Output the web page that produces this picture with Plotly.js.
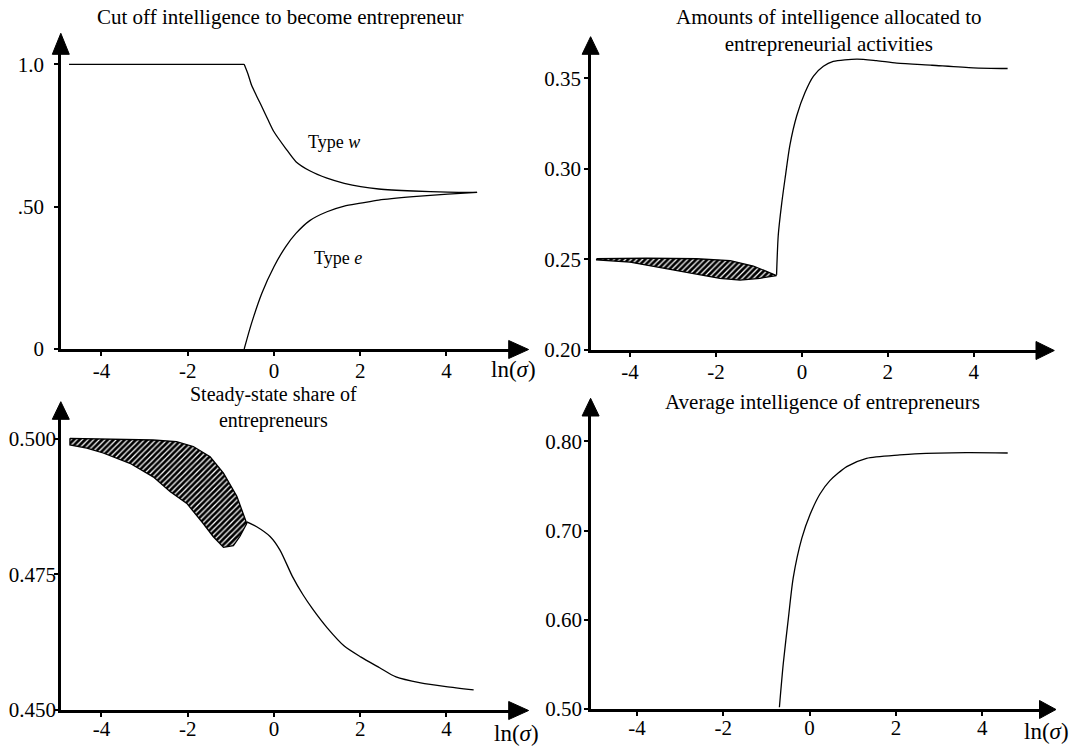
<!DOCTYPE html>
<html>
<head>
<meta charset="utf-8">
<script src="https://cdn.plot.ly/plotly-3.0.1.min.js"></script>
<style>html,body{margin:0;padding:0;background:#fff;}#chart{width:1076px;height:747px;}</style>
</head>
<body>
<div id="chart"></div>
<script>
// ---------------- DATA ----------------
// Panel 1: cut off intelligence to become entrepreneur
const typeWX = [-4.75, -0.69, -0.60, -0.52, -0.40, -0.28, -0.14, 0.0, 0.27, 0.51, 0.83, 1.23, 1.63, 2.01, 2.43, 3.23, 4.03, 4.71];
const typeWY = [1.0, 1.0, 0.965, 0.927, 0.888, 0.851, 0.806, 0.763, 0.705, 0.658, 0.626, 0.600, 0.582, 0.570, 0.562, 0.555, 0.551, 0.550];
const typeEX = [-0.69, -0.52, -0.28, 0.0, 0.27, 0.51, 0.83, 1.23, 1.63, 2.01, 2.43, 3.23, 4.03, 4.71];
const typeEY = [0.0, 0.090, 0.196, 0.289, 0.359, 0.406, 0.451, 0.482, 0.502, 0.512, 0.523, 0.535, 0.544, 0.550];

// Panel 2: amounts of intelligence allocated to entrepreneurial activities
const alloc2UpperX = [-4.78, -3.61, -2.45, -1.67, -1.13, -0.59];
const alloc2UpperY = [0.2504, 0.2508, 0.2504, 0.2494, 0.2464, 0.2415];
const alloc2LowerX = [-4.78, -4.0, -3.23, -2.45, -1.91, -1.44, -0.98, -0.59];
const alloc2LowerY = [0.2498, 0.2485, 0.2455, 0.2419, 0.2396, 0.2386, 0.2396, 0.2411];
const alloc2X = [-0.59, -0.55, -0.47, -0.39, -0.28, -0.12, 0.07, 0.27, 0.50, 0.73, 1.28, 1.74, 2.21, 3.03, 3.99, 4.79];
const alloc2Y = [0.2415, 0.2635, 0.281, 0.2951, 0.3131, 0.3294, 0.3421, 0.3513, 0.3567, 0.3594, 0.3607, 0.3598, 0.3585, 0.3573, 0.3559, 0.3555];

// Panel 3: steady-state share of entrepreneurs
const share3UpperX = [-4.73, -3.57, -2.80, -2.26, -1.87, -1.48, -1.17, -0.86, -0.63];
const share3UpperY = [0.5001, 0.4999, 0.4998, 0.4995, 0.4986, 0.4967, 0.4937, 0.4894, 0.4847];
const share3LowerX = [-4.73, -4.34, -3.96, -3.34, -2.80, -2.41, -2.02, -1.64, -1.41, -1.17, -0.94, -0.79, -0.63];
const share3LowerY = [0.4989, 0.4983, 0.4974, 0.4955, 0.4930, 0.4903, 0.4881, 0.4844, 0.4820, 0.4800, 0.4803, 0.4820, 0.4844];
const share3X = [-0.63, -0.40, -0.09, 0.14, 0.43, 0.67, 0.90, 1.23, 1.63, 2.01, 2.45, 2.83, 3.40, 3.99, 4.63];
const share3Y = [0.4847, 0.4838, 0.4820, 0.4795, 0.4746, 0.4713, 0.4686, 0.4652, 0.4618, 0.4598, 0.4578, 0.4561, 0.4550, 0.4543, 0.4537];

// Panel 4: average intelligence of entrepreneurs
const avg4X = [-0.70, -0.61, -0.49, -0.38, -0.18, 0.01, 0.24, 0.47, 0.86, 1.32, 2.09, 2.44, 3.63, 4.59];
const avg4Y = [0.502, 0.551, 0.6026, 0.647, 0.6915, 0.718, 0.741, 0.756, 0.7717, 0.781, 0.7848, 0.786, 0.7874, 0.787];

// Tick labels
const xTickVals = [-4, -2, 0, 2, 4];
const xTickText = ["-4", "-2", "0", "2", "4"];
const y1TickVals = [0, 0.5, 1.0];
const y1TickText = ["0", ".50", "1.0"];
const y2TickVals = [0.20, 0.25, 0.30, 0.35];
const y2TickText = ["0.20", "0.25", "0.30", "0.35"];
const y3TickVals = [0.450, 0.475, 0.500];
const y3TickText = ["0.450", "0.475", "0.500"];
const y4TickVals = [0.50, 0.60, 0.70, 0.80];
const y4TickText = ["0.50", "0.60", "0.70", "0.80"];

const titles = [
  "Cut off intelligence to become entrepreneur",
  "Amounts of intelligence allocated to<br>entrepreneurial activities",
  "Steady-state share of<br>entrepreneurs",
  "Average intelligence of entrepreneurs"
];

// ---------------- LAYOUT HELPERS ----------------
const W = 1076, H = 747;
const FONT = "Liberation Serif, Times New Roman, serif";
const fx = v => v / W;
const fy = v => 1 - v / H;

// panel geometry in pixels
const P = [
  {xl: 61.3, xr: 509.7, yb: 349, yt: 53.3, xr0: -4.93, xr1: 5.466, yr0: 0, yr1: 1.0386, xtip: 528.6, ytip: 33.3, xso: -3, yso: 6},
  {xl: 591.1, xr: 1037, yb: 350, yt: 53.3, xr0: -4.908, xr1: 5.474, yr0: 0.20, yr1: 0.3639, xtip: 1054.3, ytip: 36.7, xso: -3, yso: -1},
  {xl: 61.3, xr: 509.7, yb: 710, yt: 418.3, xr0: -4.93, xr1: 5.466, yr0: 0.45, yr1: 0.5038, xtip: 528.6, ytip: 401.7, xso: -6, yso: -6},
  {xl: 591.1, xr: 1040.5, yb: 709, yt: 415, xr0: -5.063, xr1: 5.35, yr0: 0.50, yr1: 0.8296, xtip: 1056, ytip: 398.3, xso: -6, yso: -2}
];
const yTV = [y1TickVals, y2TickVals, y3TickVals, y4TickVals];
const yTT = [y1TickText, y2TickText, y3TickText, y4TickText];

const layout = {
  width: W, height: H,
  margin: {l: 0, r: 0, t: 0, b: 0, pad: 0},
  paper_bgcolor: "white", plot_bgcolor: "white",
  showlegend: false,
  font: {family: FONT, color: "black", size: 21},
  shapes: [], annotations: []
};

P.forEach((p, i) => {
  const n = i + 1;
  const xs = n === 1 ? "" : String(n);
  const tickFont = {family: FONT, size: 21, color: "black"};
  layout["xaxis" + xs] = {
    domain: [fx(p.xl), fx(p.xr)], anchor: "y" + xs, range: [p.xr0, p.xr1],
    showline: true, linewidth: 3, linecolor: "black",
    ticks: "outside", ticklen: 4, tickwidth: 2, tickcolor: "black",
    tickmode: "array", tickvals: xTickVals, ticktext: xTickText,
    showgrid: false, zeroline: false, tickfont: tickFont, ticklabelstandoff: p.xso,
    fixedrange: true
  };
  layout["yaxis" + xs] = {
    domain: [fy(p.yb), fy(p.yt)], anchor: "x" + xs, range: [p.yr0, p.yr1],
    showline: true, linewidth: 3, linecolor: "black",
    ticks: "outside", ticklen: 4, tickwidth: 2, tickcolor: "black",
    tickmode: "array", tickvals: yTV[i], ticktext: yTT[i],
    showgrid: false, zeroline: false, tickfont: tickFont, ticklabelstandoff: p.yso,
    fixedrange: true
  };
  // overlay axes for the inner half of the crossing ticks
  const on = String(n + 4);
  layout["xaxis" + on] = {
    overlaying: "x" + xs, anchor: "y" + xs, range: [p.xr0, p.xr1],
    showline: false, ticks: "inside", ticklen: 6, tickwidth: 2, tickcolor: "black",
    tickmode: "array", tickvals: xTickVals, showticklabels: false,
    showgrid: false, zeroline: false, fixedrange: true
  };
  layout["yaxis" + on] = {
    overlaying: "y" + xs, anchor: "x" + xs, side: "left", range: [p.yr0, p.yr1],
    showline: false, ticks: "inside", ticklen: 6, tickwidth: 2, tickcolor: "black",
    tickmode: "array", tickvals: yTV[i], showticklabels: false,
    showgrid: false, zeroline: false, fixedrange: true
  };
  // arrowheads
  const xArrow = `M ${fx(p.xr - 1)},${fy(p.yb - 8.5)} L ${fx(p.xtip)},${fy(p.yb + 0.5)} L ${fx(p.xr - 1)},${fy(p.yb + 9.5)} Z`;
  const yArrow = `M ${fx(p.xl - 9)},${fy(p.yt + 1)} L ${fx(p.xl - 0.5)},${fy(p.ytip)} L ${fx(p.xl + 8)},${fy(p.yt + 1)} Z`;
  [xArrow, yArrow].forEach(path => layout.shapes.push({
    type: "path", xref: "paper", yref: "paper", path: path,
    fillcolor: "black", line: {color: "black", width: 1}
  }));
});

// titles
const titlePos = [[279.8, 17], [828.7, 31], [273.5, 407], [822.6, 402.3]];
titles.forEach((t, i) => layout.annotations.push({
  xref: "paper", yref: "paper", x: fx(titlePos[i][0]), y: fy(titlePos[i][1]),
  xanchor: "center", yanchor: "middle", showarrow: false, text: t,
  font: {family: FONT, size: i === 2 ? 20 : 21, color: "black"}
}));
// x-axis name labels
[[513, 370], [516, 733], [1046.5, 731]].forEach(pos => layout.annotations.push({
  xref: "paper", yref: "paper", x: fx(pos[0]), y: fy(pos[1]),
  xanchor: "center", yanchor: "middle", showarrow: false,
  text: "ln(<i>σ</i>)", font: {family: FONT, size: 23, color: "black"}
}));
// curve labels in panel 1
layout.annotations.push({xref: "x", yref: "y", x: 1.4, y: 0.728, showarrow: false,
  text: "Type <i>w</i>", font: {family: FONT, size: 18, color: "black"}});
layout.annotations.push({xref: "x", yref: "y", x: 1.48, y: 0.319, showarrow: false,
  text: "Type <i>e</i>", font: {family: FONT, size: 18, color: "black"}});

// ---------------- TRACES ----------------
const lineStyle = {color: "black", width: 1.3, shape: "spline", smoothing: 0.7};
const flatStyle = {color: "black", width: 1.3, shape: "linear"};
const hatch = {shape: "/", size: 4, solidity: 0.7, fgcolor: "black", bgcolor: "white", fillmode: "replace"};
function poly(ux, uy, lx, ly) {
  return {x: ux.concat(lx.slice().reverse(), [ux[0]]), y: uy.concat(ly.slice().reverse(), [uy[0]])};
}
const h2 = poly(alloc2UpperX, alloc2UpperY, alloc2LowerX, alloc2LowerY);
const h3 = poly(share3UpperX, share3UpperY, share3LowerX, share3LowerY);

const data = [
  // Type w: flat part (straight) and curved part (smooth), split at the kink
  {type: "scatter", mode: "lines", x: typeWX.slice(0, 2), y: typeWY.slice(0, 2), xaxis: "x", yaxis: "y", line: flatStyle, hoverinfo: "skip"},
  {type: "scatter", mode: "lines", x: typeWX.slice(1), y: typeWY.slice(1), xaxis: "x", yaxis: "y", line: lineStyle, hoverinfo: "skip"},
  {type: "scatter", mode: "lines", x: typeEX, y: typeEY, xaxis: "x", yaxis: "y", line: lineStyle, hoverinfo: "skip"},
  {type: "scatter", mode: "lines", x: h2.x, y: h2.y, xaxis: "x2", yaxis: "y2", fill: "toself",
   fillcolor: "white", fillpattern: hatch, line: {color: "black", width: 1.3}, hoverinfo: "skip"},
  {type: "scatter", mode: "lines", x: alloc2X, y: alloc2Y, xaxis: "x2", yaxis: "y2", line: lineStyle, hoverinfo: "skip"},
  {type: "scatter", mode: "lines", x: h3.x, y: h3.y, xaxis: "x3", yaxis: "y3", fill: "toself",
   fillcolor: "white", fillpattern: hatch, line: {color: "black", width: 1.3}, hoverinfo: "skip"},
  {type: "scatter", mode: "lines", x: share3X, y: share3Y, xaxis: "x3", yaxis: "y3", line: lineStyle, hoverinfo: "skip"},
  {type: "scatter", mode: "lines", x: avg4X, y: avg4Y, xaxis: "x4", yaxis: "y4", line: lineStyle, hoverinfo: "skip"}
];

Plotly.newPlot("chart", data, layout, {staticPlot: true, displayModeBar: false});
</script>
</body>
</html>
